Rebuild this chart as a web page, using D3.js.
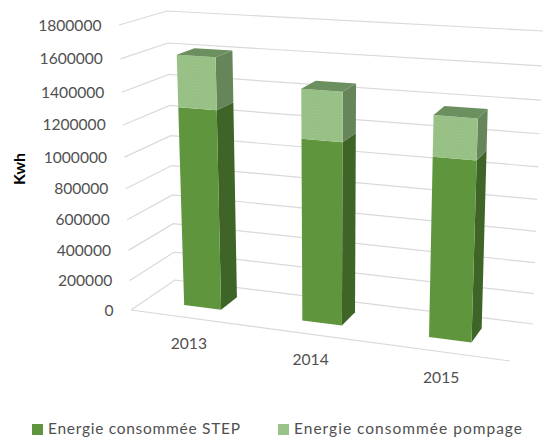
<!DOCTYPE html>
<html>
<head>
<meta charset="utf-8">
<script src="https://cdn.jsdelivr.net/npm/d3@7"></script>
<style>
  html, body { margin: 0; padding: 0; background: #fff; overflow: hidden; }
  text { font-family: Lato, "Open Sans", sans-serif; }
</style>
</head>
<body>
<svg id="chart" width="543" height="437"></svg>
<script>
const years = ["2013", "2014", "2015"];
const energieStep = [1290000, 1160000, 1120000];
const energiePompage = [320000, 300000, 245000];
const yTicks = [0, 200000, 400000, 600000, 800000, 1000000, 1200000, 1400000, 1600000, 1800000];
const serieNames = ["Energie consommée STEP", "Energie consommée pompage"];

const w = 543;
const h = 437;
const svg = d3.select("#chart").attr("width", w).attr("height", h);

// the 8 corners of the 3d box as seen on the picture: [x (0 left, 1 right)][y (0 floor, 1 top)][z (0 front, 1 back)]
const box = {
  "000": [131, 310], "010": [119, 25], "001": [175, 280], "011": [167, 11],
  "100": [510, 361], "110": [522, 51], "101": [533, 324], "111": [543, 31]
};

// perspective squeeze of a 0..1 coordinate
const persp = k => t => t / (k - (k - 1) * t);
const perspX = persp(1.11);
const perspY = persp(1.08);
const perspZ = persp(0.85);

const xScale = d3.scaleBand().domain(years).range([0, 1]).paddingInner(0.68).paddingOuter(0.34);
const yScale = d3.scaleLinear().domain([0, 1800000]).range([0, 1]);
const zScale = d3.scaleLinear().domain([0, 1]).range([0.3, 0.7]);

function project(x, y, z) {
  const a = perspX(x), b = perspY(y), c = perspZ(z);
  const pt = [0, 1].map(i => {
    let sum = 0;
    [0, 1].forEach(ix => [0, 1].forEach(iy => [0, 1].forEach(iz => {
      const wgt = (ix ? a : 1 - a) * (iy ? b : 1 - b) * (iz ? c : 1 - c);
      sum += wgt * box["" + ix + iy + iz][i];
    })));
    return sum;
  });
  return pt;
}

const line = d3.line();

// gridlines on left and back wall
const grid = svg.append("g").attr("fill", "none").attr("stroke", "#d9d9d9").attr("stroke-width", 1.2);
grid.selectAll("path")
  .data(yTicks)
  .enter()
  .append("path")
  .attr("d", d => {
    const y = yScale(d);
    return line([project(0, y, 0), project(0, y, 1), project(1, y, 1)]);
  });

// floor front edge
grid.append("path").attr("d", line([project(0, 0, 0), project(1, 0, 0)]));

// y labels
svg.append("g").selectAll("text")
  .data(yTicks)
  .enter()
  .append("text")
  .attr("x", d => project(0, yScale(d), 0)[0] - 17.5)
  .attr("y", d => project(0, yScale(d), 0)[1] + 5.5)
  .attr("text-anchor", "end")
  .attr("font-size", 15.6)
  .attr("fill", "#505050")
  .text(d => d);

// category labels
svg.append("g").selectAll("text")
  .data(years)
  .enter()
  .append("text")
  .attr("x", d => project(xScale(d) + xScale.bandwidth() / 2, 0, 0)[0])
  .attr("y", d => project(xScale(d) + xScale.bandwidth() / 2, 0, 0)[1] + 31)
  .attr("text-anchor", "middle")
  .attr("font-size", 15.6)
  .attr("fill", "#505050")
  .text(d => d);

// axis title
svg.append("text")
  .attr("transform", "translate(25,169) rotate(-90)")
  .attr("text-anchor", "middle")
  .attr("font-size", 16)
  .attr("font-weight", "bold")
  .attr("fill", "#000")
  .text("Kwh");

// dotted texture of the lighter segment
const defs = svg.append("defs");
const dots = defs.append("pattern")
  .attr("id", "dots")
  .attr("width", 3).attr("height", 3)
  .attr("patternUnits", "userSpaceOnUse");
dots.append("rect").attr("width", 3).attr("height", 3).attr("fill", "#9ac288");
dots.append("circle").attr("cx", 1).attr("cy", 1).attr("r", 0.7).attr("fill", "#90b97d");

// one block of a stacked 3d bar
function block(g, x0, x1, y0, y1, colors, withTop) {
  const z0 = zScale(0), z1 = zScale(1);
  const front = [project(x0, y0, z0), project(x1, y0, z0), project(x1, y1, z0), project(x0, y1, z0)];
  const side = [project(x1, y0, z0), project(x1, y0, z1), project(x1, y1, z1), project(x1, y1, z0)];
  const top = [project(x0, y1, z0), project(x1, y1, z0), project(x1, y1, z1), project(x0, y1, z1)];
  g.append("path").attr("d", line(side) + "Z").attr("fill", colors.side);
  g.append("path").attr("d", line(front) + "Z").attr("fill", colors.front);
  if (withTop) g.append("path").attr("d", line(top) + "Z").attr("fill", colors.top);
}

const stepColors = { front: "#5f963d", side: "#3e6527", top: "#4f7a33" };
const pompageColors = { front: "url(#dots)", side: "#66865a", top: "#6c8f5f" };

years.forEach((yr, i) => {
  const g = svg.append("g");
  const x0 = xScale(yr), x1 = x0 + xScale.bandwidth();
  const s = energieStep[i], t = s + energiePompage[i];
  block(g, x0, x1, yScale(0), yScale(s), stepColors, false);
  block(g, x0, x1, yScale(s), yScale(t), pompageColors, true);
});

// legend
const legendItems = [
  { name: serieNames[0], color: "#5f963d", x: 32, len: 192 },
  { name: serieNames[1], color: "#9ac288", x: 278, len: 228 }
];
const legend = svg.append("g").selectAll("g")
  .data(legendItems)
  .enter()
  .append("g")
  .attr("transform", d => "translate(" + d.x + ",424)");
legend.append("rect").attr("width", 11).attr("height", 11).attr("fill", d => d.color);
legend.append("text")
  .attr("x", 16)
  .attr("y", 9.5)
  .attr("font-size", 15.5)
  .attr("fill", "#505050")
  .attr("textLength", d => d.len)
  .attr("lengthAdjust", "spacing")
  .text(d => d.name);
</script>
</body>
</html>
